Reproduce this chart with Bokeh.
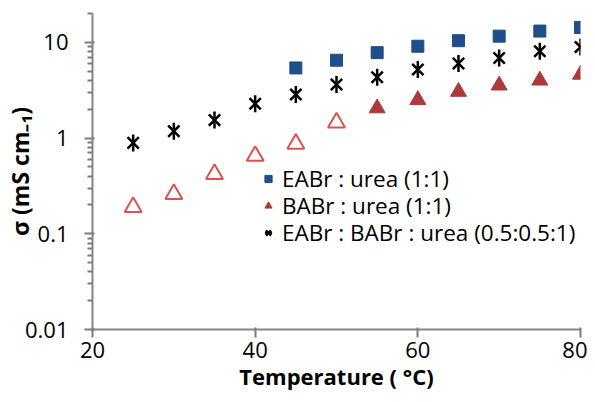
import math
from bokeh.plotting import figure
from bokeh.models import FixedTicker, Legend, LegendItem, Range1d
from bokeh.embed import file_html
from bokeh.resources import INLINE

# ---- data ----
temp_eabr = [45, 50, 55, 60, 65, 70, 75, 80]
sigma_eabr = [5.4, 6.5, 7.8, 9.1, 10.4, 11.6, 13.1, 14.3]

temp_babr = [55, 60, 65, 70, 75, 80]
sigma_babr = [2.05, 2.5, 3.05, 3.55, 4.0, 4.6]

temp_babr_open = [25, 30, 35, 40, 45, 50]
sigma_babr_open = [0.19, 0.26, 0.42, 0.65, 0.87, 1.45]

temp_mix = [25, 30, 35, 40, 45, 50, 55, 60, 65, 70, 75, 80]
sigma_mix = [0.89, 1.18, 1.54, 2.28, 2.85, 3.62, 4.32, 5.19, 6.0, 6.86, 8.07, 8.95]

x_ticks = [20, 40, 60, 80]
y_ticks = [0.01, 0.1, 1, 10]
y_tick_labels = {0.01: "0.01", 0.1: "0.1", 1: "1", 10: "10"}

labels = ["EABr : urea (1:1)", "BABr : urea (1:1)", "EABr : BABr : urea (0.5:0.5:1)"]

FONT = "Open Sans"
AXIS_COL = "#868686"
TICK_COL = "#7a7a7a"

p = figure(width=587, height=394, y_axis_type="log",
           x_range=Range1d(20, 80), y_range=Range1d(0.01, 20),
           output_backend="svg", toolbar_location=None,
           min_border_left=91, min_border_right=7, min_border_top=13, min_border_bottom=65)
p.grid.visible = False
p.outline_line_color = None
p.background_fill_color = "white"

# markers
p.scatter(temp_babr_open, sigma_babr_open, marker="triangle", size=17,
          fill_color=None, line_color="#D9534F", line_width=2)
r_sq = p.scatter(temp_eabr, sigma_eabr, marker="square", size=12,
                 fill_color="#1F4E89", line_color="#1F4E89")
r_tri = p.scatter(temp_babr, sigma_babr, marker="triangle", size=16,
                  fill_color="#AD3A3A", line_color="#AD3A3A")
r_x = p.scatter(temp_mix, sigma_mix, marker="x", size=16,
                line_color="black", line_width=2.5)
r_v = p.scatter(temp_mix, sigma_mix, marker="dash", size=17, angle=math.pi / 2,
                line_color="black", line_width=2.5)

# x axis
xa = p.xaxis[0]
xa.ticker = FixedTicker(ticks=x_ticks, minor_ticks=[])
xa.axis_line_color = AXIS_COL
xa.axis_line_width = 2
xa.major_tick_line_color = TICK_COL
xa.major_tick_line_width = 2
xa.major_tick_out = 8
xa.minor_tick_line_color = None
xa.major_label_text_font = FONT
xa.major_label_text_font_size = "22px"
xa.major_label_text_color = "black"
xa.major_label_standoff = 4
xa.axis_label = "Temperature ( °C)"
xa.axis_label_text_font = FONT
xa.axis_label_text_font_style = "bold"
xa.axis_label_text_font_size = "22px"
xa.axis_label_text_color = "black"
xa.axis_label_standoff = 0

# y axis
ya = p.yaxis[0]
minor = []
for dec in [0.01, 0.1, 1, 10]:
    for k in range(2, 10):
        v = dec * k
        if v <= 20:
            minor.append(v)
ya.ticker = FixedTicker(ticks=y_ticks, minor_ticks=minor)
ya.major_label_overrides = y_tick_labels
ya.axis_line_color = AXIS_COL
ya.axis_line_width = 2
ya.major_tick_line_color = TICK_COL
ya.major_tick_line_width = 2
ya.major_tick_out = 8
ya.minor_tick_line_color = TICK_COL
ya.minor_tick_line_width = 2
ya.minor_tick_out = 5
ya.major_label_text_font = FONT
ya.major_label_text_font_size = "22px"
ya.major_label_text_color = "black"
ya.major_label_standoff = 16
ya.axis_label = "σ (mS cm₋₁)"
ya.axis_label_text_font = FONT
ya.axis_label_text_font_style = "bold"
ya.axis_label_text_font_size = "23px"
ya.axis_label_text_color = "black"
ya.axis_label_standoff = -14

# one legend per row so the rows sit at the reference's spacing
legend_rows = [
    (labels[0], [r_sq], 135),
    (labels[1], [r_tri], 108),
    (labels[2], [r_x, r_v], 81),
]
for text, rends, y_off in legend_rows:
    lg = Legend(items=[LegendItem(label=text, renderers=rends)], location=(167, y_off))
    lg.border_line_color = None
    lg.background_fill_alpha = 0
    lg.padding = 0
    lg.margin = 0
    lg.spacing = 0
    lg.glyph_width = 18
    lg.glyph_height = 27
    lg.label_height = 27
    lg.label_standoff = 5
    lg.label_text_font = FONT
    lg.label_text_font_size = "22.5px"
    lg.label_text_color = "black"
    p.add_layout(lg, "center")

open("out.html", "w").write(file_html(p, INLINE))
